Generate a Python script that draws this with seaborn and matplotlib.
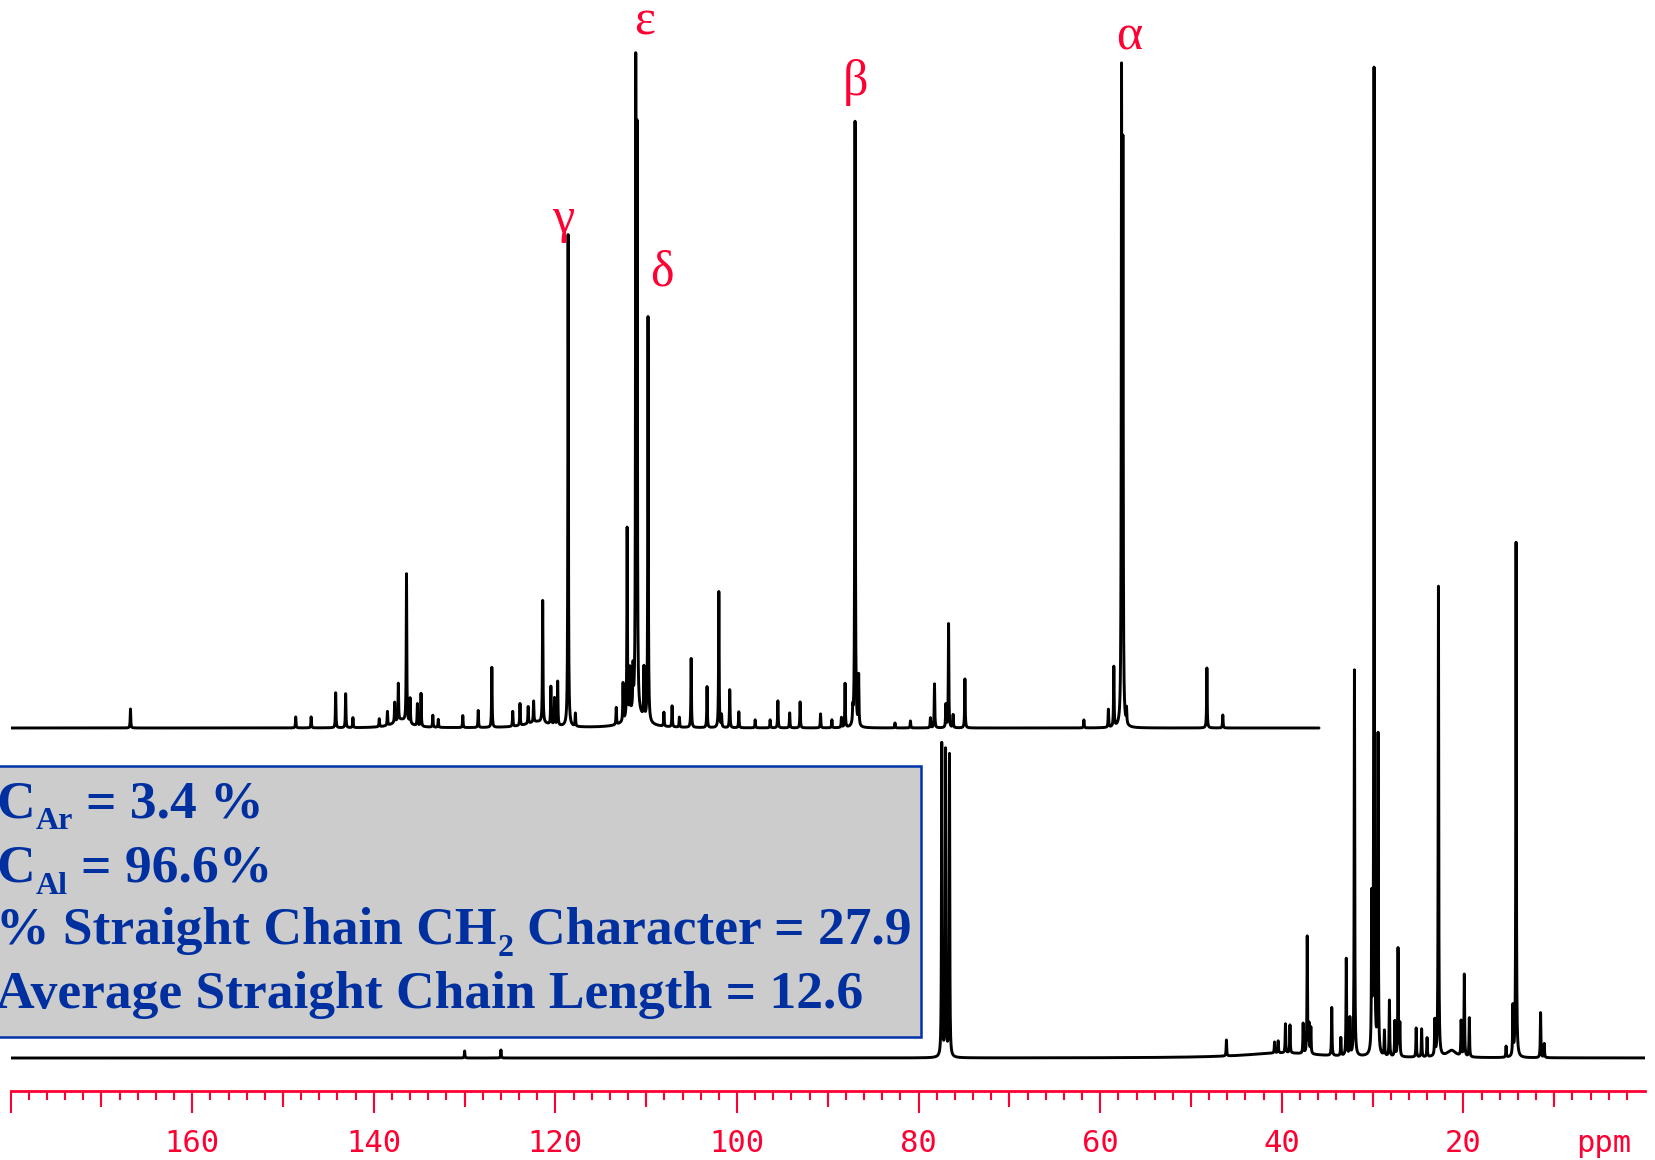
import numpy as np
import pandas as pd
import matplotlib
matplotlib.use("Agg")
import matplotlib.pyplot as plt
import matplotlib.transforms as mtransforms
from matplotlib.patches import Rectangle
import seaborn as sns

# ------------------------------------------------------------------ data
# upper trace (inset spectrum): sharp lines, chemical shift (ppm) and intensity
upper_ppm = [166.8, 148.6, 146.9, 144.2, 143.1, 142.3, 139.4, 138.5, 137.7, 137.3,
             136.4, 136.0, 135.2, 134.8, 133.5, 132.9, 130.2, 128.5, 127.0, 124.7,
             123.9, 123.0, 122.4, 121.4, 120.5, 120.1, 119.75, 118.6, 117.8, 113.3,
             112.55, 112.1, 111.8, 111.45, 111.15, 111.0, 110.25, 109.8, 108.05, 107.15,
             106.35, 105.05, 103.3, 102.0, 101.7, 100.8, 99.8, 98.0, 96.35, 95.5,
             94.2, 93.05, 90.8, 89.55, 88.5, 88.1, 87.25, 87.0, 86.6, 82.6,
             80.9, 78.7, 78.25, 77.0, 76.7, 76.2, 74.9, 61.8, 59.1, 58.5,
             57.65, 57.5, 57.1, 48.25, 46.5]
upper_height = [19, 11, 11, 35, 34, 10, 8, 14, 20, 37,
                148, 25, 22, 33, 12, 8, 12, 17, 60, 15,
                22, 17, 21, 122, 38, 27, 44, 492, 13, 17,
                38, 190, 45, 40, 630, 560, 50, 405, 14, 21,
                10, 69, 41, 136, 12, 38, 16, 8, 8, 27,
                15, 26, 14, 8, 10, 44, 14, 606, 50, 5,
                7, 10, 44, 23, 104, 13, 49, 8, 18, 60,
                636, 560, 15, 60, 13]
upper_broad_ppm = [111.2, 137.0, 122.0]
upper_broad_height = [15, 8, 6]
upper_broad_hwhm = [1.0, 1.0, 1.5]
upper_range = [180.0, 35.9]

# lower trace (full spectrum, CDCl3 triplet near 77 ppm)
lower_ppm = [130.0, 126.0, 77.45, 77.03, 76.6, 46.1, 40.8, 40.4, 39.6, 39.1,
             37.65, 37.2, 37.0, 36.8, 34.5, 33.5, 32.9, 32.5, 32.0, 30.1,
             29.84, 29.4, 28.7, 28.15, 27.55, 27.2, 27.0, 25.2, 24.6, 24.0,
             23.15, 22.75, 20.25, 19.9, 19.35, 15.3, 14.55, 14.2, 11.5, 11.1]
lower_height = [7, 8, 313, 306, 302, 16, 11, 12, 29, 28,
                30, 117, 28, 26, 48, 18, 97, 37, 386, 150,
                985, 318, 25, 56, 35, 108, 32, 29, 28, 19,
                35, 470, 35, 82, 39, 11, 49, 515, 45, 14]
lower_broad_ppm = [40.0, 21.3]
lower_broad_height = [5, 7]
lower_broad_hwhm = [5.0, 0.6]
lower_range = [180.0, 0.0]

greek_labels = ["\u03b5", "\u03b3", "\u03b4", "\u03b2", "\u03b1"]

# text of the info box: (main text, subscript, text after subscript)
box_lines = [("C", "Ar", "= 3.4 %"),
             ("C", "Al", "= 96.6%"),
             ("% Straight Chain CH", "2", "Character = 27.9"),
             ("Average Straight Chain Length = 12.6", "", "")]

tick_label_values = [160, 140, 120, 100, 80, 60, 40, 20]

# ------------------------------------------------------------------ helpers
LINE_HWHM = 0.035


def build_trace(lo_hi, centers, heights, bc, bh, bw):
    grid = np.round(np.arange(lo_hi[0], lo_hi[1] - 1e-9, -0.01), 2)
    y = np.zeros_like(grid)
    for c, h in zip(centers, heights):
        y += h * LINE_HWHM ** 2 / ((grid - c) ** 2 + LINE_HWHM ** 2)
    for c, h, w in zip(bc, bh, bw):
        y += h * w ** 2 / ((grid - c) ** 2 + w ** 2)
    return grid, y


# ------------------------------------------------------------------ style
sns.set_theme(style="ticks")
plt.rcParams["font.family"] = ["Liberation Serif", "DejaVu Serif"]

RED = "#FF0033"
BLUE = "#0030A0"

W, H = 1656, 1160
fig = plt.figure(figsize=(W / 100, H / 100), dpi=100)
fig.patch.set_facecolor("white")

ax_left, ax_right, ax_bottom_px = 10.6, 1645.0, 1091.0
ax = fig.add_axes([ax_left / W, (H - ax_bottom_px) / H,
                   (ax_right - ax_left) / W, ax_bottom_px / H])
ax.set_facecolor("none")

# offsets of the two stacked traces above the ppm scale (in intensity units)
lower_offset = 33
upper_offset = 363

gx, gy = build_trace(lower_range, lower_ppm, lower_height,
                     lower_broad_ppm, lower_broad_height, lower_broad_hwhm)
ux, uy = build_trace(upper_range, upper_ppm, upper_height,
                     upper_broad_ppm, upper_broad_height, upper_broad_hwhm)

df = pd.concat([
    pd.DataFrame({"ppm": gx, "intensity": gy + lower_offset, "trace": "full"}),
    pd.DataFrame({"ppm": ux, "intensity": uy + upper_offset, "trace": "inset"}),
])

sns.lineplot(data=df, x="ppm", y="intensity", units="trace", estimator=None,
             color="black", lw=2.1, sort=False, ax=ax, legend=False)

ax.set_xlim(180, 0)
ax.set_ylim(0, 1091)
ax.set_xlabel("")
ax.set_ylabel("")
ax.set_yticks([])

for s in ["left", "right", "top"]:
    ax.spines[s].set_visible(False)
ax.spines["bottom"].set_color(RED)
ax.spines["bottom"].set_linewidth(2.0)

# tick structure: long ticks every 20, medium every 10, short every 2
major = list(range(20, 181, 20))
ax.set_xticks(major)
ax.set_xticklabels([str(v) if v in tick_label_values else "" for v in major])
ax.set_xticks(list(range(2, 180, 2)), minor=True)
ax.tick_params(axis="x", which="both", bottom=True, top=False)
ax.tick_params(axis="x", which="major", direction="out", length=15.5, width=1.5,
               color=RED, labelcolor=RED, labelsize=22, pad=12)
ax.tick_params(axis="x", which="minor", direction="out", length=6.5, width=1.5,
               color=RED)
ax.tick_params(axis="y", which="both", left=False, right=False)
for lab in ax.get_xticklabels():
    lab.set_fontfamily("DejaVu Sans Mono")

sec = ax.secondary_xaxis(0)
sec.set_xticks(list(range(10, 180, 20)))
sec.set_xticklabels([])
sec.tick_params(axis="x", which="major", bottom=True, direction="out", length=11.5,
                width=1.5, color=RED)
sec.tick_params(axis="x", which="minor", length=0)
sec.spines["bottom"].set_visible(False)

trans = mtransforms.blended_transform_factory(ax.transData, ax.transAxes)
ax.text(4.6, -52 / 1091, "ppm", transform=trans, ha="center", va="center",
        color=RED, fontsize=22, fontfamily="DejaVu Sans Mono")

# greek peak labels (layout positions in data coordinates)
label_pos = [(110.2, 1069), (119.1, 871), (108.3, 818), (87.0, 1009), (56.8, 1054)]
for txt, (lx, ly) in zip(greek_labels, label_pos):
    ax.text(lx, ly, txt, color=RED, fontsize=36, ha="center", va="center",
            fontfamily="Liberation Serif")

# info box
bx0, bx1, by0, by1 = -10, 920.7, 766, 1036.7
fig.add_artist(Rectangle((bx0 / W, (H - by1) / H), (bx1 - bx0) / W, (by1 - by0) / H,
                         transform=fig.transFigure, facecolor="#CCCCCC",
                         edgecolor="#0033AA", lw=1.8, zorder=5))

renderer = fig.canvas.get_renderer()
MAIN_SIZE, SUB_SIZE, SUB_DROP = 38.5, 23, 12
baselines = [817.3, 881.7, 944.0, 1008.3]
gaps_after_sub = [13, 13, 14]
for (main, sub, rest), b, gap in zip(box_lines, baselines, gaps_after_sub + [0]):
    x = -4.0
    t = fig.text(x / W, (H - b) / H, main, color=BLUE, fontsize=MAIN_SIZE,
                 fontweight="bold", fontfamily="Liberation Serif", ha="left",
                 va="baseline", zorder=6)
    if sub:
        x = t.get_window_extent(renderer).x1 + 1
        ts = fig.text(x / W, (H - b - SUB_DROP) / H, sub, color=BLUE, fontsize=SUB_SIZE,
                      fontweight="bold", fontfamily="Liberation Serif", ha="left",
                      va="baseline", zorder=6)
        x = ts.get_window_extent(renderer).x1 + gap
        fig.text(x / W, (H - b) / H, rest, color=BLUE, fontsize=MAIN_SIZE,
                 fontweight="bold", fontfamily="Liberation Serif", ha="left",
                 va="baseline", zorder=6)

fig.savefig("out.png", dpi=100, facecolor="white")
